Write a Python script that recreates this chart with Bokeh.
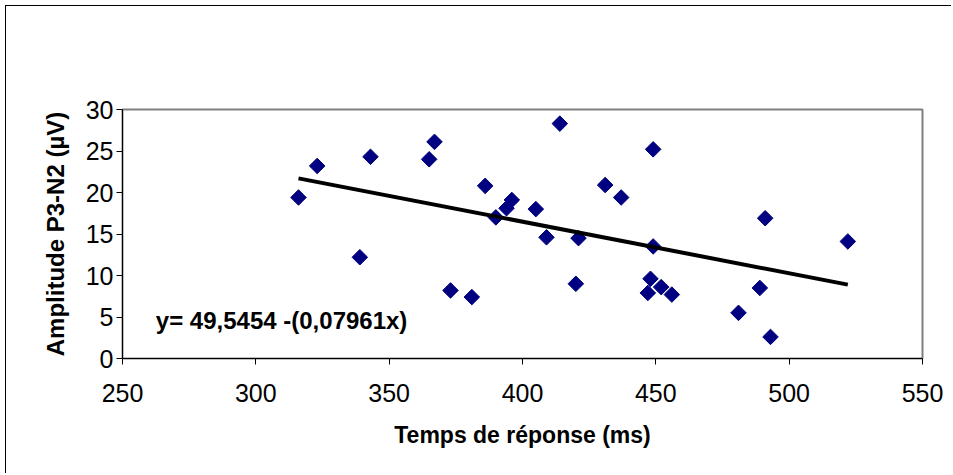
import numpy as np
from bokeh.plotting import figure
from bokeh.models import Range1d, FixedTicker, Label, ColumnDataSource
from bokeh.embed import file_html
from bokeh.resources import INLINE

# ---- data ----
rt_ms = [316, 323, 339, 343, 365, 367, 373, 381, 386, 390,
         394, 396, 405, 409, 414, 420, 421, 431, 437, 447,
         448, 449, 449, 452, 456, 481, 489, 491, 493, 522]
amp_uv = [19.4, 23.2, 12.2, 24.3, 24.0, 26.1, 8.2, 7.4, 20.8, 17.0,
          18.1, 19.1, 18.0, 14.6, 28.3, 9.0, 14.5, 20.9, 19.4, 7.9,
          9.6, 25.2, 13.5, 8.6, 7.7, 5.5, 8.5, 16.9, 2.6, 14.1]
trend_x = [316, 522]
trend_y = [21.7, 8.9]
x_ticks = [250, 300, 350, 400, 450, 500, 550]
y_ticks = [0, 5, 10, 15, 20, 25, 30]
equation = "y= 49,5454 -(0,07961x)"
x_title = "Temps de réponse (ms)"
y_title = "Amplitude P3-N2 (µV)"

FONT = "Liberation Sans"

p = figure(width=946, height=468, output_backend="svg", toolbar_location=None,
           x_range=Range1d(250, 550), y_range=Range1d(0, 30),
           min_border_left=116, min_border_top=103, min_border_right=30,
           min_border_bottom=116, background_fill_color="white",
           border_fill_color="white")
p.styles = {"border-top": "1px solid black", "border-left": "1px solid black",
            "margin-left": "5px", "margin-top": "5px"}

p.outline_line_color = "#808080"
p.outline_line_width = 2
p.xgrid.visible = False
p.ygrid.visible = False

p.xaxis.ticker = FixedTicker(ticks=x_ticks)
p.yaxis.ticker = FixedTicker(ticks=y_ticks)
for ax in (p.xaxis[0], p.yaxis[0]):
    ax.axis_line_color = "black"
    ax.axis_line_width = 1
    ax.major_tick_line_color = "black"
    ax.major_tick_in = 0
    ax.major_tick_out = 6
    ax.minor_tick_line_color = None
    ax.major_label_text_font = FONT
    ax.major_label_text_font_size = "25px"
    ax.major_label_text_color = "black"
    ax.axis_label_text_font = FONT
    ax.axis_label_text_font_style = "bold"
    ax.axis_label_text_color = "black"

p.xaxis.axis_label = x_title
p.yaxis.axis_label = y_title
p.xaxis.axis_label_text_font_size = "23px"
p.yaxis.axis_label_text_font_size = "24px"
p.xaxis.major_label_standoff = 19
p.xaxis.axis_label_standoff = 17
p.yaxis.major_label_standoff = 3
p.yaxis.axis_label_standoff = 14

src = ColumnDataSource(dict(x=rt_ms, y=amp_uv))
p.scatter("x", "y", source=src, marker="square", angle=np.pi / 4, size=11,
          fill_color="#000080", line_color="#000080")

p.line(trend_x, trend_y, line_color="black", line_width=4)

p.add_layout(Label(x=262.5, y=4.6, text=equation, text_font=FONT,
                   text_font_size="24px", text_font_style="bold",
                   text_color="black", text_baseline="middle"))

open("out.html", "w").write(file_html(p, INLINE))
